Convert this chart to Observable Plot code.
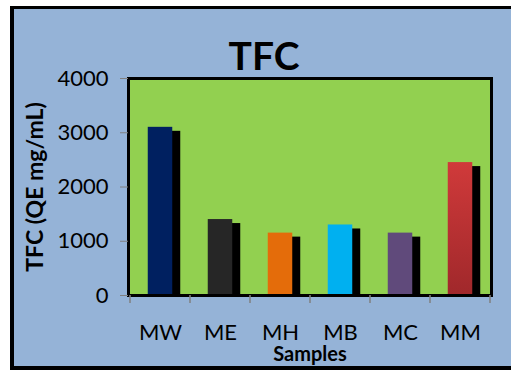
<!DOCTYPE html>
<html>
<head>
<meta charset="utf-8">
<script src="https://cdn.jsdelivr.net/npm/d3@7"></script>
<script src="https://cdn.jsdelivr.net/npm/@observablehq/plot@0.6"></script>
<style>
  html, body { margin: 0; padding: 0; background: #ffffff; width: 511px; height: 374px; overflow: hidden; }
  #panel { position: absolute; left: 10px; top: 6px; width: 510px; height: 364px; background: #95B3D7; border: 3px solid #000; border-left-width: 4px; border-bottom-width: 4px; box-sizing: border-box; }
  #chart { position: absolute; left: 0; top: 0; }
</style>
</head>
<body>
<div id="panel"></div>
<div id="chart"></div>
<script>
const samples = ["MW", "ME", "MH", "MB", "MC", "MM"];
const tfc = [3100, 1400, 1150, 1300, 1150, 2450];
const barColors = ["#002060", "#262626", "#E46C0A", "#00B0F0", "#604A7B", "url(#mmGrad)"];
const yTicks = [0, 1000, 2000, 3000, 4000];
const chartTitle = "TFC";
const yTitle = "TFC (QE mg/mL)";
const xTitle = "Samples";

const data = samples.map((s, i) => ({sample: s, value: tfc[i]}));
const font = "Lato, 'Open Sans', sans-serif";

const chart = Plot.plot({
  width: 511,
  height: 374,
  marginLeft: 128,
  marginRight: 20,
  marginTop: 78,
  marginBottom: 79,
  style: {background: "transparent", fontFamily: font, color: "#000"},
  x: {type: "band", domain: samples, padding: 0, label: null},
  y: {domain: [0, 4000], label: null},
  color: {type: "ordinal", domain: samples, range: barColors},
  marks: [
    Plot.frame({fill: "#92D050"}),
    // 3D depth shadow of each column
    Plot.barY(data, {x: "sample", y: "value", fill: "#000", insetLeft: 17.75, insetRight: 17.75, insetBottom: 4, dx: 8, dy: 4}),
    Plot.barY(data, {x: "sample", y: "value", fill: "sample", insetLeft: 17.75, insetRight: 17.75}),
    Plot.frame({stroke: "#000", strokeWidth: 3}),
    Plot.axisY({ticks: yTicks, tickSize: 8, tickPadding: 12, stroke: "#808080", fontSize: 22, fill: "#000", label: null, tickFormat: d => String(d)}),
    Plot.axisX({tickSize: 0, tickPadding: 29, fontSize: 22, fill: "#000", label: null}),
    Plot.text([chartTitle], {frameAnchor: "top", dx: -46, dy: -21, lineAnchor: "middle", fontSize: 39, fontWeight: "bold", fill: "#000"}),
    Plot.text([yTitle], {frameAnchor: "left", textAnchor: "middle", dx: -93, rotate: -90, lineAnchor: "middle", fontSize: 23, fontWeight: "bold", fill: "#000"}),
    Plot.text([xTitle], {frameAnchor: "bottom", dy: 59, lineAnchor: "middle", fontSize: 20, fontWeight: "bold", fill: "#000"})
  ]
});

// gradient for MM column
const svg = d3.select(chart);
const defs = svg.insert("defs", ":first-child");
const grad = defs.append("linearGradient").attr("id", "mmGrad").attr("x1", 0).attr("y1", 0).attr("x2", 0).attr("y2", 1);
grad.append("stop").attr("offset", "0%").attr("stop-color", "#D03A3A");
grad.append("stop").attr("offset", "100%").attr("stop-color", "#A0282B");

// boundary ticks below the x axis, at the edges of each category band
const xs = chart.scale("x");
const boundaries = samples.map(s => xs.apply(s)).concat([xs.apply(samples[samples.length - 1]) + xs.bandwidth]);
const gTicks = svg.append("g").attr("stroke", "#808080").attr("stroke-width", 1.5);
boundaries.forEach(bx => gTicks.append("line").attr("x1", bx).attr("x2", bx).attr("y1", 295).attr("y2", 303));

document.getElementById("chart").appendChild(chart);
</script>
</body>
</html>
